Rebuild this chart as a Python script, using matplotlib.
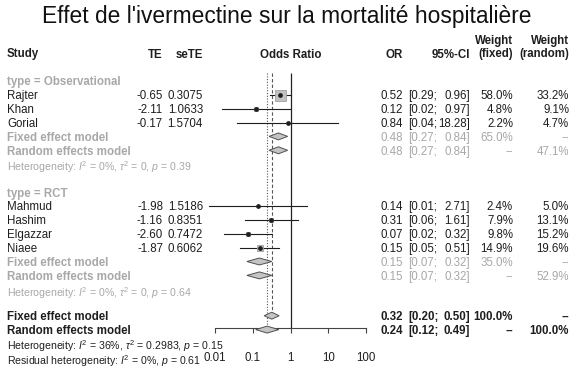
import numpy as np
from matplotlib import pyplot as plt
import matplotlib.transforms as mtransforms
from matplotlib.patches import Polygon
from matplotlib.ticker import NullLocator

plt.rcParams['font.family'] = ['Liberation Sans', 'DejaVu Sans']
plt.rcParams['mathtext.fontset'] = 'custom'
plt.rcParams['mathtext.rm'] = 'Liberation Sans'
plt.rcParams['mathtext.it'] = 'Liberation Sans:italic'
plt.rcParams['mathtext.bf'] = 'Liberation Sans:bold'

titulo = "Effet de l'ivermectine sur la mortalité hospitalière"

# etudes observationnelles
obs_noms = ['Rajter', 'Khan', 'Gorial']
obs_te = [-0.65, -2.11, -0.17]
obs_sete = [0.3075, 1.0633, 1.5704]
obs_or = [0.522, 0.121, 0.844]
obs_bas = [0.29, 0.0151, 0.0389]
obs_haut = [0.96, 0.97, 18.28]
obs_w_fixe = [58.0, 4.8, 2.2]
obs_w_alea = [33.2, 9.1, 4.7]

# essais randomises
rct_noms = ['Mahmud', 'Hashim', 'Elgazzar', 'Niaee']
rct_te = [-1.98, -1.16, -2.60, -1.87]
rct_sete = [1.5186, 0.8351, 0.7472, 0.6062]
rct_or = [0.138, 0.313, 0.074, 0.154]
rct_bas = [0.0070, 0.061, 0.0172, 0.047]
rct_haut = [2.71, 1.61, 0.32, 0.51]
rct_w_fixe = [2.4, 7.9, 9.8, 14.9]
rct_w_alea = [5.0, 13.1, 15.2, 19.6]

# modeles (OR, bas, haut, poids fixe, poids aleatoire)
obs_fixe = [0.48, 0.27, 0.84, '65.0%', '--']
obs_alea = [0.48, 0.27, 0.84, '--', '47.1%']
rct_fixe = [0.15, 0.07, 0.32, '35.0%', '--']
rct_alea = [0.15, 0.07, 0.32, '--', '52.9%']
tot_fixe = [0.32, 0.20, 0.50, '100.0%', '--']
tot_alea = [0.24, 0.12, 0.49, '--', '100.0%']

obs_hetero = ['0%', '0', '0.39']
rct_hetero = ['0%', '0', '0.64']
tot_hetero = ['36%', '0.2983', '0.15']
residuel = ['0%', '0.61']

ticks = [0.01, 0.1, 1, 10, 100]
tick_labels = ['0.01', '0.1', '1', '10', '100']

NOIR = '#1e1e1e'
GRIS = '#a8a8a8'
FS = 8.3
FS_HET = 7.6

fig = plt.figure(figsize=(5.8, 3.78), dpi=100)
ax = fig.add_axes([215/580, 0, 151/580, 1])
ax.set_xscale('log')
ax.set_xlim(0.01, 100)
ax.set_ylim((378-53)/13.9, -53/13.9)
tr = mtransforms.blended_transform_factory(fig.transFigure, ax.transData)


def txt(px, r, s, ha='left', gras=False, couleur=NOIR, taille=FS):
    ax.text(px/580, r, s, transform=tr, ha=ha, va='center_baseline',
            fontsize=taille, fontweight='bold' if gras else 'normal',
            color=couleur, clip_on=False)


def colonnes_valeurs(r, orv, bas, haut, wf, wa, gras=False, couleur=NOIR):
    txt(403, r, f'{orv:.2f}', 'right', gras, couleur)
    txt(408, r, f'[{bas:.2f};', 'left', gras, couleur)
    txt(470, r, f'{haut:.2f}]', 'right', gras, couleur)
    txt(513, r, wf, 'right', gras, couleur)
    txt(569, r, wa, 'right', gras, couleur)


def etudes(r0, noms, te, sete, orv, bas, haut, wf, wa):
    for i in range(len(noms)):
        r = r0 + i
        txt(7, r, noms[i])
        txt(163, r, f'{te[i]:.2f}', 'right')
        txt(203, r, f'{sete[i]:.4f}', 'right')
        colonnes_valeurs(r, orv[i], bas[i], haut[i], f'{wf[i]:.1f}%', f'{wa[i]:.1f}%')
        ax.plot([bas[i], haut[i]], [r, r], color=NOIR, lw=0.8, clip_on=False)
        cote = 11 * np.sqrt(wf[i] / 58.0) * 0.72
        ax.plot(orv[i], r, marker='s', ms=cote, mfc='#c2c2c2', mec='#a0a0a0',
                mew=0.6, clip_on=False)
        ax.plot(orv[i], r, marker='o', ms=2.4, color=NOIR, clip_on=False)


def diamant(r, modele, h=0.25):
    est, bas, haut = modele[0], modele[1], modele[2]
    poly = Polygon([(bas, r), (est, r - h), (haut, r), (est, r + h)], closed=True,
                   facecolor='#c4c4c4', edgecolor='#505050', lw=0.7, zorder=3)
    ax.add_patch(poly)


def modele(r, nom, m, gras_val=False, couleur=GRIS):
    txt(7, r, nom, gras=True, couleur=couleur)
    colonnes_valeurs(r, m[0], m[1], m[2], m[3], m[4], gras_val, couleur)
    diamant(r, m)


# titre et en-tetes
fig.text(287/580, 1 - 16/378, titulo, ha='center', va='center', fontsize=16.4, color='#111111')
txt(7, 0, 'Study', gras=True)
txt(163, 0, 'TE', 'right', True)
txt(203, 0, 'seTE', 'right', True)
txt(291, 0, 'Odds Ratio', 'center', True)
txt(403, 0, 'OR', 'right', True)
txt(470, 0, '95%-CI', 'right', True)
txt(513, -0.95, 'Weight', 'right', True)
txt(513, 0, '(fixed)', 'right', True)
txt(569, -0.95, 'Weight', 'right', True)
txt(569, 0, '(random)', 'right', True)

# lignes verticales
ax.vlines(1, 1.45, 19.76, color='#222222', lw=0.9)
ax.vlines(tot_fixe[0], 1.45, 18.7, color='#555555', lw=0.8, linestyles=(0, (3, 2)))
ax.vlines(tot_alea[0], 1.45, 19.6, color='#555555', lw=0.8, linestyles=(0, (1, 1.5)))

# sous-groupe observationnel
txt(7, 2, 'type = Observational', gras=True, couleur=GRIS)
etudes(3, obs_noms, obs_te, obs_sete, obs_or, obs_bas, obs_haut, obs_w_fixe, obs_w_alea)
modele(6, 'Fixed effect model', obs_fixe)
modele(7, 'Random effects model', obs_alea)
txt(7, 8.1, f'Heterogeneity: $I^2$ = {obs_hetero[0]}, $\\tau^2$ = {obs_hetero[1]}, $p$ = {obs_hetero[2]}',
    couleur=GRIS, taille=FS_HET)

# sous-groupe RCT
txt(7, 10, 'type = RCT', gras=True, couleur=GRIS)
etudes(11, rct_noms, rct_te, rct_sete, rct_or, rct_bas, rct_haut, rct_w_fixe, rct_w_alea)
modele(15, 'Fixed effect model', rct_fixe)
modele(16, 'Random effects model', rct_alea)
txt(7, 17.1, f'Heterogeneity: $I^2$ = {rct_hetero[0]}, $\\tau^2$ = {rct_hetero[1]}, $p$ = {rct_hetero[2]}',
    couleur=GRIS, taille=FS_HET)

# global
modele(18.9, 'Fixed effect model', tot_fixe, True, NOIR)
modele(19.9, 'Random effects model', tot_alea, True, NOIR)
txt(7, 20.95, f'Heterogeneity: $I^2$ = {tot_hetero[0]}, $\\tau^2$ = {tot_hetero[1]}, $p$ = {tot_hetero[2]}',
    taille=FS_HET)
txt(7, 22.0, f'Residual heterogeneity: $I^2$ = {residuel[0]}, $p$ = {residuel[1]}', taille=FS_HET)

# axe
for s in ['top', 'left', 'right']:
    ax.spines[s].set_visible(False)
ax.spines['bottom'].set_position(('data', 19.76))
ax.spines['bottom'].set_bounds(0.01, 100)
ax.spines['bottom'].set_color('#444444')
ax.spines['bottom'].set_linewidth(0.8)
ax.set_xticks(ticks, labels=tick_labels)
ax.xaxis.set_minor_locator(NullLocator())
ax.tick_params(axis='x', direction='out', length=3.6, width=0.8, color='#444444',
               pad=14, labelsize=FS, labelcolor=NOIR)
ax.set_yticks([])
ax.patch.set_visible(False)

plt.savefig('out.png', dpi=100)
